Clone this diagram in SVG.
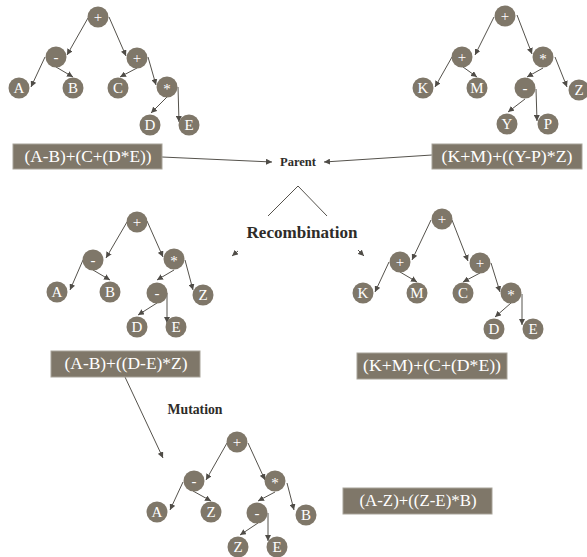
<svg xmlns="http://www.w3.org/2000/svg" width="587" height="557" viewBox="0 0 587 557">
<style>
.n circle{fill:#7f7769;}
.n text{fill:#fff;font-family:"Liberation Serif",serif;font-size:15px;text-anchor:middle;}
.b rect{fill:#7f7769;stroke:#a8a399;stroke-width:1;}
.b text{fill:#fff;font-family:"Liberation Serif",serif;font-size:16px;text-anchor:middle;}
.e line,.e polyline{stroke:#55524c;stroke-width:1;fill:none;}
.e line{marker-end:url(#ah);}
.lbl{fill:#2e2c29;font-family:"Liberation Serif",serif;font-weight:bold;text-anchor:middle;}
</style>
<defs>
<marker id="ah" markerUnits="userSpaceOnUse" markerWidth="7" markerHeight="6" refX="6" refY="3" orient="auto">
<path d="M0,0 L6,3 L0,6 z" fill="#4f4c47"/>
</marker>
</defs>
<rect width="587" height="557" fill="#fff"/>

<g id="connectors" class="e">
<!-- tree 1 -->
<line x1="88" y1="18" x2="67" y2="55"/>
<line x1="109" y1="17" x2="126" y2="56"/>
<line x1="45" y1="57" x2="31" y2="87"/>
<line x1="56" y1="67" x2="73" y2="77"/>
<line x1="137" y1="68" x2="120" y2="77"/>
<line x1="148" y1="57" x2="156" y2="85"/>
<line x1="167" y1="97" x2="151" y2="113"/>
<line x1="178" y1="87" x2="179" y2="122"/>
<!-- tree 2 -->
<line x1="494" y1="17" x2="475" y2="55"/>
<line x1="517" y1="15" x2="532" y2="54"/>
<line x1="452" y1="57" x2="435" y2="87"/>
<line x1="463" y1="67" x2="477" y2="77"/>
<line x1="543" y1="68" x2="527" y2="77"/>
<line x1="555" y1="57" x2="567" y2="87"/>
<line x1="525" y1="99" x2="508" y2="112"/>
<line x1="536" y1="89" x2="537" y2="121"/>
<!-- tree 3 -->
<line x1="127" y1="222" x2="106" y2="258"/>
<line x1="147" y1="221" x2="163" y2="257"/>
<line x1="83" y1="260" x2="70" y2="290"/>
<line x1="93" y1="270" x2="110" y2="280"/>
<line x1="174" y1="270" x2="157" y2="280"/>
<line x1="185" y1="260" x2="193" y2="290"/>
<line x1="157" y1="303" x2="138" y2="315"/>
<line x1="167" y1="293" x2="167" y2="323"/>
<!-- tree 4 -->
<line x1="431" y1="220" x2="412" y2="260"/>
<line x1="452" y1="220" x2="468" y2="261"/>
<line x1="389" y1="262" x2="375" y2="292"/>
<line x1="400" y1="272" x2="417" y2="282"/>
<line x1="480" y1="273" x2="463" y2="282"/>
<line x1="491" y1="263" x2="500" y2="292"/>
<line x1="511" y1="303" x2="495" y2="317"/>
<line x1="522" y1="294" x2="522" y2="325"/>
<!-- tree 5 -->
<line x1="227" y1="443" x2="206" y2="480"/>
<line x1="248" y1="443" x2="265" y2="480"/>
<line x1="183" y1="482" x2="170" y2="510"/>
<line x1="193" y1="491" x2="211" y2="501"/>
<line x1="275" y1="492" x2="258" y2="501"/>
<line x1="287" y1="483" x2="294" y2="510"/>
<line x1="258" y1="523" x2="240" y2="535"/>
<line x1="268" y1="513" x2="268" y2="541"/>
<!-- flow -->
<line x1="162" y1="157" x2="272" y2="162"/>
<line x1="432" y1="155" x2="324" y2="162"/>
<polyline points="268,216 298,186 327,216"/>
<line x1="238" y1="251" x2="232" y2="256"/>
<line x1="358" y1="250" x2="364" y2="256"/>
<line x1="125" y1="377" x2="163" y2="458"/>
</g>

<!-- tree 1 -->
<g id="t1_root" class="n"><circle cx="98" cy="17" r="10.5"/><text x="98" y="22">+</text></g>
<g id="t1_minus" class="n"><circle cx="56" cy="57" r="10.5"/><text x="56" y="62">-</text></g>
<g id="t1_plus" class="n"><circle cx="137" cy="58" r="10.5"/><text x="137" y="63">+</text></g>
<g id="t1_A" class="n"><circle cx="19" cy="88" r="10.5"/><text x="19" y="93">A</text></g>
<g id="t1_B" class="n"><circle cx="73" cy="88" r="10.5"/><text x="73" y="93">B</text></g>
<g id="t1_C" class="n"><circle cx="118" cy="88" r="10.5"/><text x="118" y="93">C</text></g>
<g id="t1_mul" class="n"><circle cx="167" cy="87" r="10.5"/><text x="167" y="94">*</text></g>
<g id="t1_D" class="n"><circle cx="150" cy="125" r="10.5"/><text x="150" y="130">D</text></g>
<g id="t1_E" class="n"><circle cx="189" cy="125" r="10.5"/><text x="189" y="130">E</text></g>

<!-- tree 2 -->
<g id="t2_root" class="n"><circle cx="505" cy="16" r="10.5"/><text x="505" y="21">+</text></g>
<g id="t2_plus" class="n"><circle cx="462" cy="57" r="10.5"/><text x="462" y="62">+</text></g>
<g id="t2_mul" class="n"><circle cx="543" cy="57" r="10.5"/><text x="543" y="64">*</text></g>
<g id="t2_K" class="n"><circle cx="423" cy="88" r="10.5"/><text x="423" y="93">K</text></g>
<g id="t2_M" class="n"><circle cx="477" cy="88" r="10.5"/><text x="477" y="93">M</text></g>
<g id="t2_minus" class="n"><circle cx="525" cy="88" r="10.5"/><text x="525" y="93">-</text></g>
<g id="t2_Z" class="n"><circle cx="579" cy="90" r="10.5"/><text x="579" y="95">Z</text></g>
<g id="t2_Y" class="n"><circle cx="507" cy="124" r="10.5"/><text x="507" y="129">Y</text></g>
<g id="t2_P" class="n"><circle cx="548" cy="124" r="10.5"/><text x="548" y="129">P</text></g>

<!-- tree 3 -->
<g id="t3_root" class="n"><circle cx="137" cy="222" r="10.5"/><text x="137" y="227">+</text></g>
<g id="t3_minus" class="n"><circle cx="93" cy="260" r="10.5"/><text x="93" y="265">-</text></g>
<g id="t3_mul" class="n"><circle cx="174" cy="259" r="10.5"/><text x="174" y="266">*</text></g>
<g id="t3_A" class="n"><circle cx="57" cy="292" r="10.5"/><text x="57" y="297">A</text></g>
<g id="t3_B" class="n"><circle cx="110" cy="292" r="10.5"/><text x="110" y="297">B</text></g>
<g id="t3_minus2" class="n"><circle cx="157" cy="293" r="10.5"/><text x="157" y="298">-</text></g>
<g id="t3_Z" class="n"><circle cx="203" cy="295" r="10.5"/><text x="203" y="300">Z</text></g>
<g id="t3_D" class="n"><circle cx="137" cy="327" r="10.5"/><text x="137" y="332">D</text></g>
<g id="t3_E" class="n"><circle cx="176" cy="327" r="10.5"/><text x="176" y="332">E</text></g>

<!-- tree 4 -->
<g id="t4_root" class="n"><circle cx="442" cy="219" r="10.5"/><text x="442" y="224">+</text></g>
<g id="t4_plus1" class="n"><circle cx="400" cy="262" r="10.5"/><text x="400" y="267">+</text></g>
<g id="t4_plus2" class="n"><circle cx="480" cy="263" r="10.5"/><text x="480" y="268">+</text></g>
<g id="t4_K" class="n"><circle cx="363" cy="293" r="10.5"/><text x="363" y="298">K</text></g>
<g id="t4_M" class="n"><circle cx="417" cy="293" r="10.5"/><text x="417" y="298">M</text></g>
<g id="t4_C" class="n"><circle cx="463" cy="293" r="10.5"/><text x="463" y="298">C</text></g>
<g id="t4_mul" class="n"><circle cx="511" cy="293" r="10.5"/><text x="511" y="300">*</text></g>
<g id="t4_D" class="n"><circle cx="494" cy="329" r="10.5"/><text x="494" y="334">D</text></g>
<g id="t4_E" class="n"><circle cx="533" cy="329" r="10.5"/><text x="533" y="334">E</text></g>

<!-- tree 5 -->
<g id="t5_root" class="n"><circle cx="237" cy="442" r="10.5"/><text x="237" y="447">+</text></g>
<g id="t5_minus" class="n"><circle cx="194" cy="481" r="10.5"/><text x="194" y="486">-</text></g>
<g id="t5_mul" class="n"><circle cx="275" cy="481" r="10.5"/><text x="275" y="488">*</text></g>
<g id="t5_A" class="n"><circle cx="157" cy="512" r="10.5"/><text x="157" y="517">A</text></g>
<g id="t5_Z1" class="n"><circle cx="211" cy="512" r="10.5"/><text x="211" y="517">Z</text></g>
<g id="t5_minus2" class="n"><circle cx="257" cy="513" r="10.5"/><text x="257" y="518">-</text></g>
<g id="t5_B" class="n"><circle cx="306" cy="515" r="10.5"/><text x="306" y="520">B</text></g>
<g id="t5_Z2" class="n"><circle cx="238" cy="547" r="10.5"/><text x="238" y="552">Z</text></g>
<g id="t5_E" class="n"><circle cx="277" cy="547" r="10.5"/><text x="277" y="552">E</text></g>

<!-- expression boxes -->
<g id="box1" class="b"><rect x="13" y="144" width="149" height="25"/><text x="88" y="162" textLength="127" lengthAdjust="spacingAndGlyphs">(A-B)+(C+(D*E))</text></g>
<g id="box2" class="b"><rect x="432" y="144" width="150" height="25"/><text x="507" y="162" textLength="131" lengthAdjust="spacingAndGlyphs">(K+M)+((Y-P)*Z)</text></g>
<g id="box3" class="b"><rect x="51" y="351" width="149" height="26"/><text x="126" y="369" textLength="123" lengthAdjust="spacingAndGlyphs">(A-B)+((D-E)*Z)</text></g>
<g id="box4" class="b"><rect x="357" y="353" width="150" height="26"/><text x="432" y="371" textLength="138" lengthAdjust="spacingAndGlyphs">(K+M)+(C+(D*E))</text></g>
<g id="box5" class="b"><rect x="343" y="488" width="149" height="26"/><text x="418" y="506" textLength="117" lengthAdjust="spacingAndGlyphs">(A-Z)+((Z-E)*B)</text></g>

<!-- labels -->
<g id="lbl_parent"><text class="lbl" x="298" y="166" font-size="12" textLength="36" lengthAdjust="spacingAndGlyphs">Parent</text></g>
<g id="lbl_recomb"><text class="lbl" x="302" y="238" font-size="16" textLength="111" lengthAdjust="spacingAndGlyphs">Recombination</text></g>
<g id="lbl_mut"><text class="lbl" x="195" y="414" font-size="14" textLength="55" lengthAdjust="spacingAndGlyphs">Mutation</text></g>
</svg>
